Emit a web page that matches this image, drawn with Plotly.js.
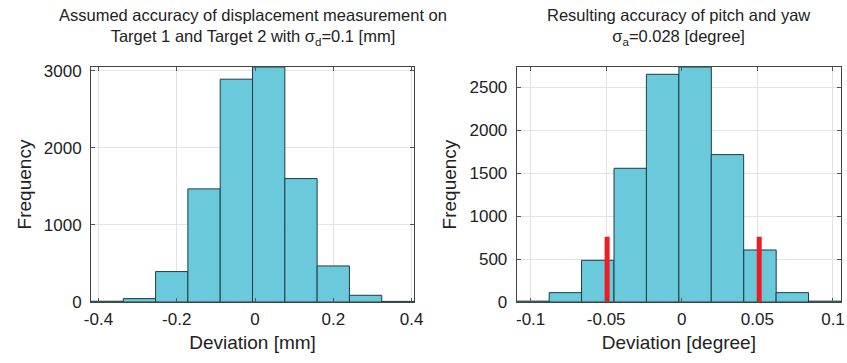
<!DOCTYPE html>
<html>
<head>
<meta charset="utf-8">
<script src="https://cdn.plot.ly/plotly-3.0.1.min.js"></script>
<style>html,body{margin:0;padding:0;background:#fff;}#chart{width:847px;height:363px;}</style>
</head>
<body>
<div id="chart"></div>
<script>
// Left histogram: displacement deviation [mm]
const leftBinCenters = [-0.3778, -0.2953, -0.2128, -0.1303, -0.0478, 0.0348, 0.1173, 0.1998, 0.2823, 0.3648];
const leftCounts = [10, 44, 395, 1468, 2892, 3050, 1602, 468, 87, 8];
const leftBinWidth = 0.0825;
const leftRange = [-0.419, 0.406];
const leftTicks = [-0.4, -0.2, 0, 0.2, 0.4];
const leftTickText = ['-0.4', '-0.2', '0', '0.2', '0.4'];
const leftYTicks = [0, 1000, 2000, 3000];

// Right histogram: pitch and yaw deviation [degree]
const rightBinCenters = [-0.0985, -0.0770, -0.0556, -0.0341, -0.0127, 0.0088, 0.0302, 0.0517, 0.0731, 0.0946];
const rightCounts = [10, 109, 485, 1555, 2648, 2733, 1714, 605, 109, 10];
const rightBinWidth = 0.02145;
const rightRange = [-0.1092, 0.1053];
const rightTicks = [-0.1, -0.05, 0, 0.05, 0.1];
const rightTickText = ['-0.1', '-0.05', '0', '0.05', '0.1'];
const rightYTicks = [0, 500, 1000, 1500, 2000, 2500];

// Red marker lines on the right plot
const redLineX = [-0.0494, 0.0512];
const redLineHeight = 760;

// Titles
const leftTitle = 'Assumed accuracy of displacement measurement on<br>Target 1 and Target 2 with σ<sub>d</sub>=0.1 [mm]';
const rightTitle = 'Resulting accuracy of pitch and yaw<br>σ<sub>a</sub>=0.028 [degree]';

const barColor = '#6ac9da';
const edgeColor = '#1f3d44';
const font = 'Liberation Sans, Arial, sans-serif';
const textColor = '#222';

const redX = [], redY = [];
redLineX.forEach(v => { redX.push(v, v, null); redY.push(0, redLineHeight, null); });

const traces = [
  {type: 'bar', x: leftBinCenters, y: leftCounts, width: leftBinWidth, xaxis: 'x', yaxis: 'y',
   marker: {color: barColor, line: {color: edgeColor, width: 1}}, showlegend: false, hoverinfo: 'x+y'},
  {type: 'bar', x: rightBinCenters, y: rightCounts, width: rightBinWidth, xaxis: 'x2', yaxis: 'y2',
   marker: {color: barColor, line: {color: edgeColor, width: 1}}, showlegend: false, hoverinfo: 'x+y'},
  {type: 'scatter', mode: 'lines', x: redX, y: redY, xaxis: 'x2', yaxis: 'y2',
   line: {color: '#ee1c24', width: 5}, showlegend: false, hoverinfo: 'skip'}
];

const axisCommon = {
  showline: true, linecolor: '#444', linewidth: 1, mirror: 'ticks',
  ticks: 'inside', ticklen: 4, tickcolor: '#555',
  showgrid: true, gridcolor: '#e3e3e3', gridwidth: 1, zeroline: false,
  tickfont: {family: font, size: 17, color: textColor},
  fixedrange: true
};

const titleFont = {family: font, size: 19, color: textColor};
const headFont = {family: font, size: 16.5, color: textColor};

const layout = {
  width: 847, height: 363,
  margin: {l: 91, r: 6, t: 67, b: 61},
  paper_bgcolor: '#fff', plot_bgcolor: '#fff',
  font: {family: font, color: textColor},
  bargap: 0,
  xaxis: Object.assign({}, axisCommon, {
    domain: [0, 0.4307], range: leftRange, tickvals: leftTicks, ticktext: leftTickText, ticklabelstandoff: 2,
    title: {text: 'Deviation [mm]', font: titleFont, standoff: 7}
  }),
  yaxis: Object.assign({}, axisCommon, {
    domain: [0, 1], range: [0, 3050], tickvals: leftYTicks, ticklabelstandoff: 5,
    title: {text: 'Frequency', font: titleFont, standoff: 7}
  }),
  xaxis2: Object.assign({}, axisCommon, {
    domain: [0.5676, 1], range: rightRange, tickvals: rightTicks, ticktext: rightTickText, anchor: 'y2', ticklabelstandoff: 2,
    title: {text: 'Deviation [degree]', font: titleFont, standoff: 7}
  }),
  yaxis2: Object.assign({}, axisCommon, {
    domain: [0, 1], range: [0, 2733], tickvals: rightYTicks, anchor: 'x2', ticklabelstandoff: 5,
    title: {text: 'Frequency', font: titleFont, standoff: 7}
  }),
  annotations: [
    {text: leftTitle, xref: 'x domain', yref: 'paper', x: 0.5, y: 1, xanchor: 'center', yanchor: 'middle', yshift: 40,
     showarrow: false, font: headFont},
    {text: rightTitle, xref: 'x2 domain', yref: 'paper', x: 0.5, y: 1, xanchor: 'center', yanchor: 'middle', yshift: 40,
     showarrow: false, font: headFont}
  ]
};

Plotly.newPlot('chart', traces, layout, {displayModeBar: false, staticPlot: true});
</script>
</body>
</html>
